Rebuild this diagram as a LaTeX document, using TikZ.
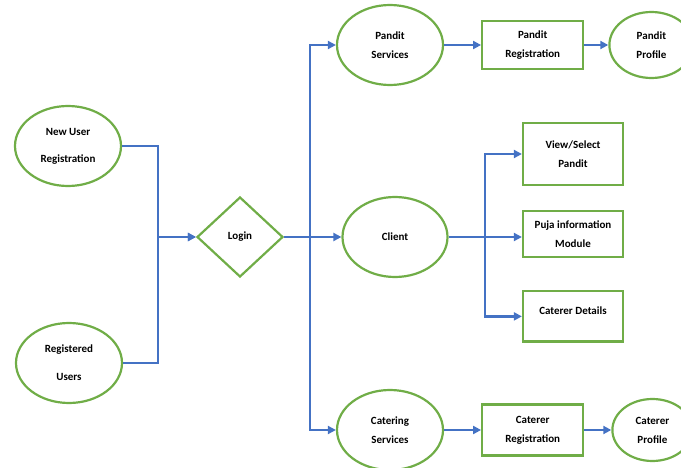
\documentclass[tikz,border=0pt]{standalone}
\usepackage{fontspec}
\setmainfont{Carlito}
\usepackage{xcolor}
\usetikzlibrary{shapes,arrows.meta,positioning}
\definecolor{nodegreen}{RGB}{112,173,71}
\definecolor{flowblue}{RGB}{68,114,196}

\begin{document}
\begin{tikzpicture}[
        x=1pt, y=-1pt,
        node distance=37pt and 37pt,
        every node/.style={draw=nodegreen, line width=2.2pt, inner sep=0pt, align=center,
            font=\bfseries\fontsize{11}{19}\selectfont},
        oval/.style={ellipse, minimum width=106pt, minimum height=80pt},
        smalloval/.style={ellipse, minimum width=82pt, minimum height=65pt},
        box/.style={rectangle, minimum width=100pt, minimum height=48pt},
        flow/.style={draw=flowblue, line width=2.6pt, -{Triangle[length=8pt,width=8pt]}}
        ]
    \clip (0,0) rectangle (681,468);

        % Nodes
        \node (newuser) [oval, font=\bfseries\fontsize{11}{27}\selectfont] at (68,146) {New User\\Registration};
        \node (reguser) [oval, font=\bfseries\fontsize{11}{28}\selectfont] at (69,363) {Registered\\Users};
        \node (login) [diamond, minimum width=86pt, minimum height=80pt] at (240,237) {Login};

        \node (pandsrv) [oval] at (390,45) {Pandit\\Services};
        \node (pandreg) [box, minimum width=101pt, right=of pandsrv] {Pandit\\Registration};
        \node (pandprof) [smalloval, minimum width=84pt, minimum height=66pt, right=24pt of pandreg] {Pandit\\Profile};

        \node (client) [oval, minimum width=105pt] at (395,237) {Client};
        \node (viewsel) [box, minimum height=62pt] at (573,154) {View/Select\\Pandit};
        \node (puja) [box, minimum height=46pt, below=24pt of viewsel] {Puja information\\Module};
        \node (catdet) [box, minimum height=50pt, text depth=11pt, below=32pt of puja] {Caterer Details};

        \node (catsrv) [oval] at (390,430) {Catering\\Services};
        \node (catreg) [box, minimum width=101pt, minimum height=51pt, right=of catsrv] {Caterer\\Registration};
        \node (catprof) [smalloval, minimum width=80pt, minimum height=62pt, right=27pt of catreg] {Caterer\\Profile};

        \coordinate (joinl) at (158,237);
        \coordinate (joinr) at (310,237);
        \coordinate (joinc) at (485,237);

        % Edges
        \draw[flow] (newuser.east) -| (joinl) -- (login.west);
        \draw[flow] (reguser.east) -| (joinl) -- (login.west);
        \draw[flow] (login.east) -- (joinr) |- (pandsrv.west);
        \draw[flow] (login.east) -- (client.west);
        \draw[flow] (joinr) |- (catsrv.west);

        \draw[flow] (pandsrv) -- (pandreg);
        \draw[flow] (pandreg) -- (pandprof);
        \draw[flow] (catsrv) -- (catreg);
        \draw[flow] (catreg) -- (catprof);

        \draw[flow] (client.east) -- (joinc) |- (viewsel.west);
        \draw[flow] (joinc) -- (joinc -| puja.west);
        \draw[flow] (joinc) |- (catdet.west);

    \end{tikzpicture}
\end{document}
